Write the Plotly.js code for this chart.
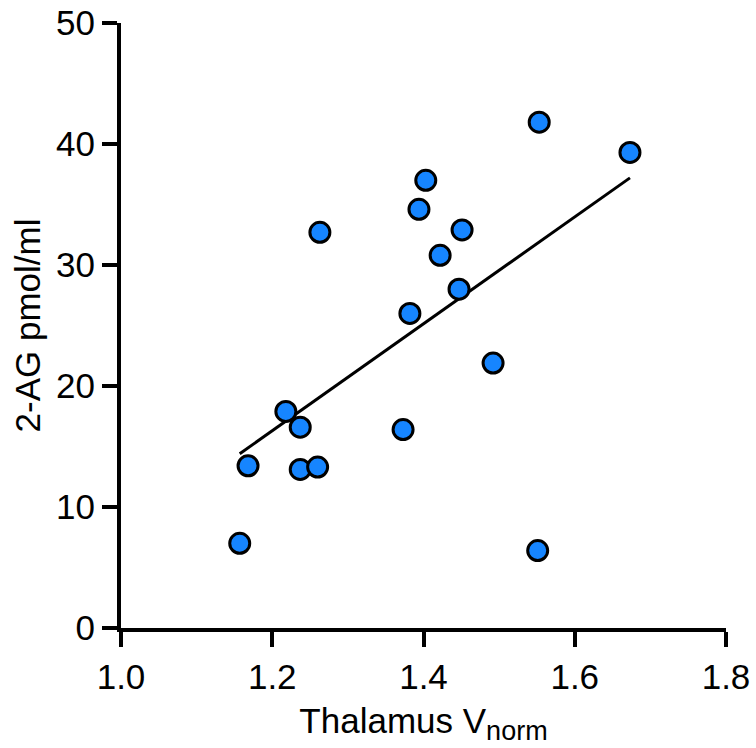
<!DOCTYPE html>
<html>
<head>
<meta charset="utf-8">
<script src="https://cdn.plot.ly/plotly-3.0.1.min.js"></script>
<style>html,body{margin:0;padding:0;background:#fff;}#chart{width:756px;height:748px;}</style>
</head>
<body>
<div id="chart"></div>
<script>
// Data
var thalamusV = [1.157, 1.168, 1.218, 1.237, 1.237, 1.260, 1.263, 1.373, 1.382, 1.394, 1.403, 1.422, 1.447, 1.451, 1.492, 1.551, 1.553, 1.673];
var ag2 = [7.0, 13.4, 17.9, 16.6, 13.1, 13.3, 32.7, 16.4, 26.0, 34.6, 37.0, 30.8, 28.0, 32.9, 21.9, 6.4, 41.8, 39.3];
var fitX = [1.157, 1.673];
var fitY = [14.4, 37.2];
var xTicks = [1.0, 1.2, 1.4, 1.6, 1.8];
var xTickLabels = ['1.0', '1.2', '1.4', '1.6', '1.8'];
var yTicks = [0, 10, 20, 30, 40, 50];
var yTickLabels = ['0', '10', '20', '30', '40', '50'];

var font = {family: 'Liberation Sans, Arial, sans-serif', size: 35, color: '#000'};

var traces = [
  {x: fitX, y: fitY, type: 'scatter', mode: 'lines', line: {color: '#000', width: 3}, hoverinfo: 'skip', showlegend: false},
  {x: thalamusV, y: ag2, type: 'scatter', mode: 'markers', cliponaxis: false,
   marker: {size: 20, color: '#1685FF', line: {color: '#000', width: 3}}, showlegend: false}
];

var layout = {
  width: 756, height: 748,
  margin: {l: 121, r: 30, t: 23, b: 120},
  paper_bgcolor: '#fff', plot_bgcolor: '#fff',
  font: font,
  showlegend: false,
  xaxis: {
    range: [1.0, 1.8], tickmode: 'array', tickvals: xTicks, ticktext: xTickLabels,
    showgrid: false, zeroline: false, showline: true, linecolor: '#000', linewidth: 4,
    ticks: 'outside', ticklen: 15, tickwidth: 4, tickcolor: '#000',
    tickfont: font,
    title: {text: 'Thalamus V<sub><span style="font-size:27px">norm</span></sub>', font: font, standoff: 14}
  },
  yaxis: {
    range: [0, 50], tickmode: 'array', tickvals: yTicks, ticktext: yTickLabels,
    showgrid: false, zeroline: false, showline: true, linecolor: '#000', linewidth: 4,
    ticks: 'outside', ticklen: 15, tickwidth: 4, tickcolor: '#000',
    tickfont: font,
    title: {text: '2-AG pmol/ml', font: font, standoff: 6}
  }
};

Plotly.newPlot('chart', traces, layout, {displayModeBar: false, staticPlot: true});
</script>
</body>
</html>
